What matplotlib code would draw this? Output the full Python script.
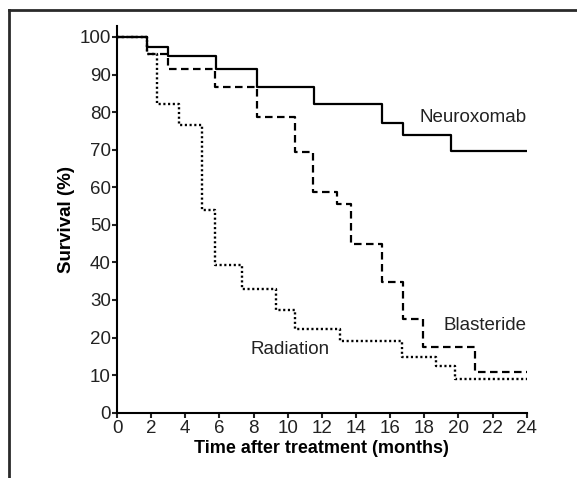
import matplotlib
matplotlib.use("Agg")
import matplotlib.pyplot as plt
from matplotlib.lines import Line2D

plt.rcParams['font.family'] = ['Liberation Sans', 'DejaVu Sans']

# Kaplan-Meier steps (months, survival %)
neuro_t = [0, 1.77, 2.97, 5.78, 8.22, 11.56, 15.54, 16.74, 19.57, 24]
neuro_s = [100, 97.4, 95.0, 91.5, 86.7, 82.1, 77.1, 73.9, 69.7, 69.7]

blast_t = [0, 1.77, 2.97, 5.75, 8.22, 10.45, 11.5, 12.9, 13.7, 15.5, 16.74, 17.95, 20.97, 24]
blast_s = [100, 95.4, 91.5, 86.8, 78.6, 69.4, 58.7, 55.5, 44.9, 34.9, 24.9, 17.4, 10.9, 10.9]

rad_t = [0, 1.77, 2.32, 3.63, 4.96, 5.75, 7.3, 9.31, 10.43, 13.06, 16.71, 18.67, 19.8, 24]
rad_s = [100, 95.4, 82.1, 76.7, 53.9, 39.3, 32.9, 27.3, 22.2, 19.2, 14.9, 12.5, 8.9, 8.9]

x_ticks = list(range(0, 25, 2))
y_ticks = list(range(0, 101, 10))

fs = 13.5
fig = plt.figure(figsize=(5.77, 4.78), dpi=100)
ax = fig.add_axes([0.2028, 0.1366, 0.71, 0.8096])

ax.step(rad_t, rad_s, where='post', color='black', lw=1.7,
        linestyle=(0, (0.9, 1.1)), dash_capstyle='butt')
ax.step(blast_t, blast_s, where='post', color='black', lw=1.6,
        linestyle=(0, (3.4, 2)), dash_capstyle='butt')
ax.step(neuro_t, neuro_s, where='post', color='black', lw=1.6)

ax.set_xlim(0, 24)
ax.set_ylim(0, 103)
ax.set_xticks(x_ticks)
ax.set_yticks(y_ticks)
for side in ['top', 'right']:
    ax.spines[side].set_visible(False)
for side in ['left', 'bottom']:
    ax.spines[side].set_linewidth(1.5)
ax.tick_params(width=1.5, length=3.5, labelsize=fs, colors='#222222')
ax.tick_params(axis='y', pad=1)
ax.tick_params(axis='x', pad=2)

ax.set_xlabel('Time after treatment (months)', fontsize=13, fontweight='bold', labelpad=2)
ax.set_ylabel('Survival (%)', fontsize=fs, fontweight='bold', labelpad=3)

ax.text(24, 78.7, 'Neuroxomab', ha='right', va='center', fontsize=fs, color='#222222')
ax.text(24, 23.1, 'Blasteride', ha='right', va='center', fontsize=fs, color='#222222')
ax.text(7.8, 16.7, 'Radiation', ha='left', va='center', fontsize=fs, color='#222222')

# frame around the panel (top and left edges visible in the crop)
fig.add_artist(Line2D([9 / 577, 1], [1 - 10 / 478, 1 - 10 / 478], transform=fig.transFigure,
                      color='#2a2a2a', lw=2))
fig.add_artist(Line2D([9 / 577, 9 / 577], [0, 1 - 10 / 478], transform=fig.transFigure,
                      color='#2a2a2a', lw=2))

fig.savefig('out.png', dpi=100)
